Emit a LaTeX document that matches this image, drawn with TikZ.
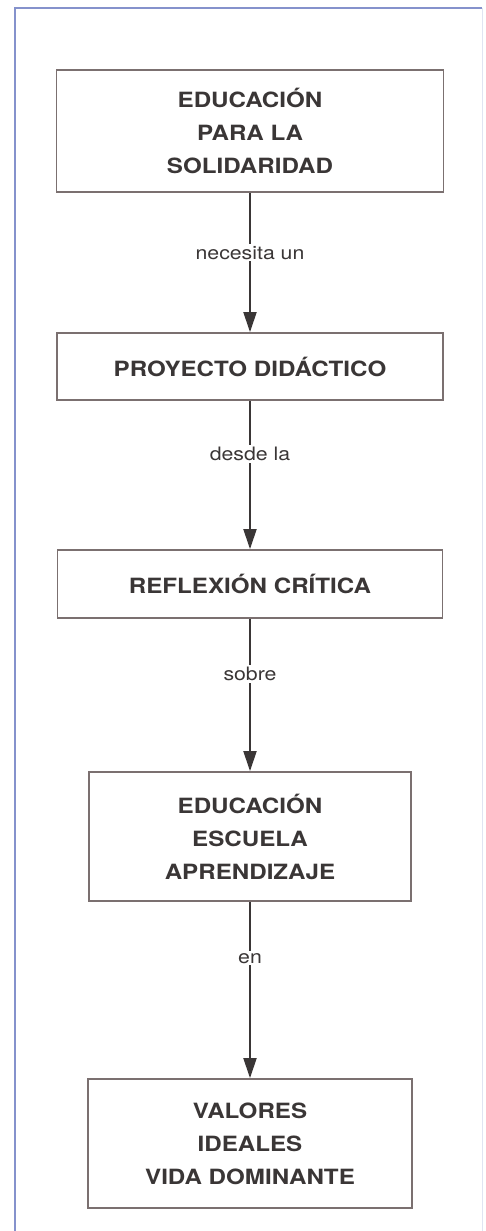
\documentclass[tikz,border=0pt]{standalone}
\usepackage{fontspec}
\setmainfont{TeX Gyre Heros}
\usetikzlibrary{arrows.meta}
\definecolor{frameblue}{HTML}{8592CC}
\definecolor{boxline}{HTML}{7B7070}
\definecolor{ink}{HTML}{3A3636}
\newcommand{\wtxt}[1]{\scalebox{1.15}[1]{#1}}
\tikzset{
  box/.style={draw=boxline, line width=1.8pt, fill=white, text=ink, inner sep=0pt,
    align=center, font=\fontsize{21}{33}\selectfont\bfseries},
  conn/.style={draw=ink, line width=2pt, -{Triangle[length=20pt,width=13pt]}},
  lbl/.style={fill=white, text=ink, inner sep=2pt, font=\fontsize{18.5}{22}\selectfont}
}
\begin{document}
\begin{tikzpicture}[x=1pt,y=-1pt]
\useasboundingbox (0,0) rectangle (485,1231);
\fill[white] (0,0) rectangle (485,1231);
% frame
\draw[frameblue, line width=2pt] (15,1231) -- (15,8) -- (482,8);
\draw[frameblue!25, line width=1pt] (482,8) -- (482,1231);
% boxes
\node[box, minimum width=387pt, minimum height=122pt] (b1) at (250,131)
  {\wtxt{EDUCACIÓN}\\\wtxt{PARA LA}\\\wtxt{SOLIDARIDAD}};
\node[box, minimum width=386pt, minimum height=67pt] (b2) at (250,366.5)
  {\wtxt{PROYECTO DIDÁCTICO}};
\node[box, minimum width=385pt, minimum height=68pt] (b3) at (250,584)
  {\wtxt{REFLEXIÓN CRÍTICA}};
\node[box, minimum width=322pt, minimum height=129pt] (b4) at (250,836.5)
  {\wtxt{EDUCACIÓN}\\\wtxt{ESCUELA}\\\wtxt{APRENDIZAJE}};
\node[box, minimum width=324pt, minimum height=129pt] (b5) at (250,1143.5)
  {\wtxt{VALORES}\\\wtxt{IDEALES}\\\wtxt{VIDA DOMINANTE}};
% connectors
\draw[conn] (b1.south) -- node[lbl, pos=0.43] (l1) {\wtxt{necesita un}} (b2.north);
\draw[conn] (b2.south) -- node[lbl, pos=0.36] (l2) {\wtxt{desde la}} (b3.north);
\draw[conn] (b3.south) -- node[lbl, pos=0.36] (l3) {\wtxt{sobre}} (b4.north);
\draw[conn] (b4.south) -- node[lbl, pos=0.32] (l4) {\wtxt{en}} (b5.north);
\end{tikzpicture}
\end{document}
